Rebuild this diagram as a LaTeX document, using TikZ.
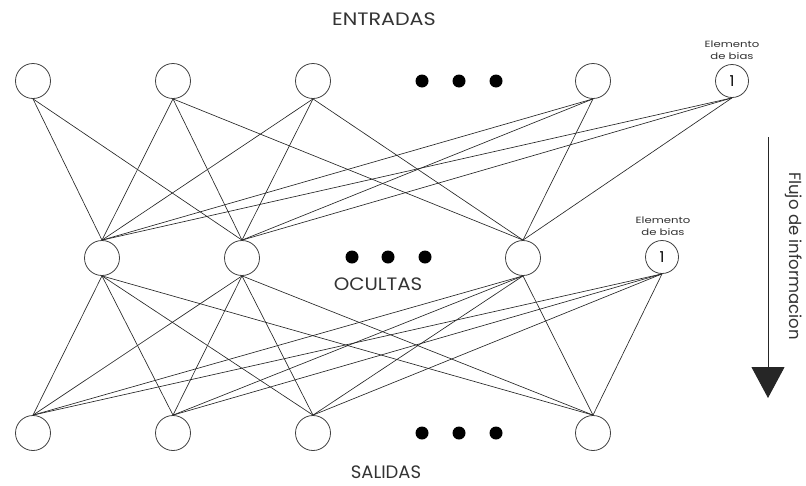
\documentclass[tikz,border=0pt]{standalone}
\usepackage{fontspec}
\setmainfont{Poppins}
\usetikzlibrary{arrows.meta}
\begin{document}
\begin{tikzpicture}[x=1pt,y=-1pt,
  neuron/.style={circle, draw=black!75, line width=0.8pt, minimum size=35pt, inner sep=0pt},
  biasn/.style={circle, draw=black!75, line width=0.8pt, minimum size=33pt, inner sep=0pt, font=\fontsize{15}{15}\selectfont\rmfamily},
  conn/.style={draw=black!85, line width=0.65pt},
  dotn/.style={circle, fill=black, minimum size=13pt, inner sep=0pt},
  layerlbl/.style={font=\fontsize{18}{18}\selectfont, text=black!80, inner sep=1pt},
  biaslbl/.style={font=\fontsize{9}{12}\selectfont, text=black!80, align=center}]
\useasboundingbox (0,0) rectangle (806,485);
% input layer
\node[neuron] (i1) at (33,81) {};
\node[neuron] (i2) at (173,81) {};
\node[neuron] (i3) at (313,81) {};
\node[neuron] (i4) at (593,81) {};
\node[biasn] (ib) at (732,81) {1};
\node[dotn] (di1) at (422,81) {};
\node[dotn] (di2) at (459,81) {};
\node[dotn] (di3) at (496,81) {};
% hidden layer
\node[neuron] (h1) at (102,258) {};
\node[neuron] (h2) at (242,258) {};
\node[neuron] (h3) at (523,258) {};
\node[biasn] (hb) at (662,257) {1};
\node[dotn] (dh1) at (352,257) {};
\node[dotn] (dh2) at (388,257) {};
\node[dotn] (dh3) at (425,257) {};
% output layer
\node[neuron] (o1) at (33,433) {};
\node[neuron] (o2) at (173,433) {};
\node[neuron] (o3) at (313,433) {};
\node[neuron] (o4) at (593,433) {};
\node[dotn] (do1) at (422,433) {};
\node[dotn] (do2) at (459,433) {};
\node[dotn] (do3) at (496,433) {};
% labels
\node[layerlbl] (lin) at (384,19) {\scalebox{1.15}[1]{ENTRADAS}};
\node[layerlbl] (lhid) at (378,284) {\scalebox{1.1}[1]{OCULTAS}};
\node[layerlbl] (lout) at (386,472) {\scalebox{1.0}[1]{SALIDAS}};
\node[biaslbl] (lb1) at (732,50) {\scalebox{1.3}[1]{Elemento}\\\scalebox{1.3}[1]{de bias}};
\node[biaslbl] (lb2) at (663,226) {\scalebox{1.3}[1]{Elemento}\\\scalebox{1.3}[1]{de bias}};
% connections input -> hidden
\foreach \s in {i2,i3,i4,ib} {
  \foreach \t in {h1,h2,h3} {
    \draw[conn] (\s.south) -- (\t.north);
  }
}
\draw[conn] (i1.south) -- (h1.north);
\draw[conn] (i1.south) -- (h2.north);
% connections hidden -> output
\foreach \s in {h1,h2,h3,hb} {
  \foreach \t in {o1,o2,o3,o4} {
    \draw[conn] (\s.south) -- (\t.north);
  }
}
% flow arrow
\coordinate (a1) at (768,137);
\coordinate (a2) at (768,398);
\draw[line width=1pt, draw=black!85, -{Triangle[width=33pt,length=31pt]}] (a1) -- (a2);
\node[font=\fontsize{16.5}{16.5}\selectfont, text=black!80, rotate=-90] (flujo) at (794,256) {Flujo de informacion};
\end{tikzpicture}
\end{document}
